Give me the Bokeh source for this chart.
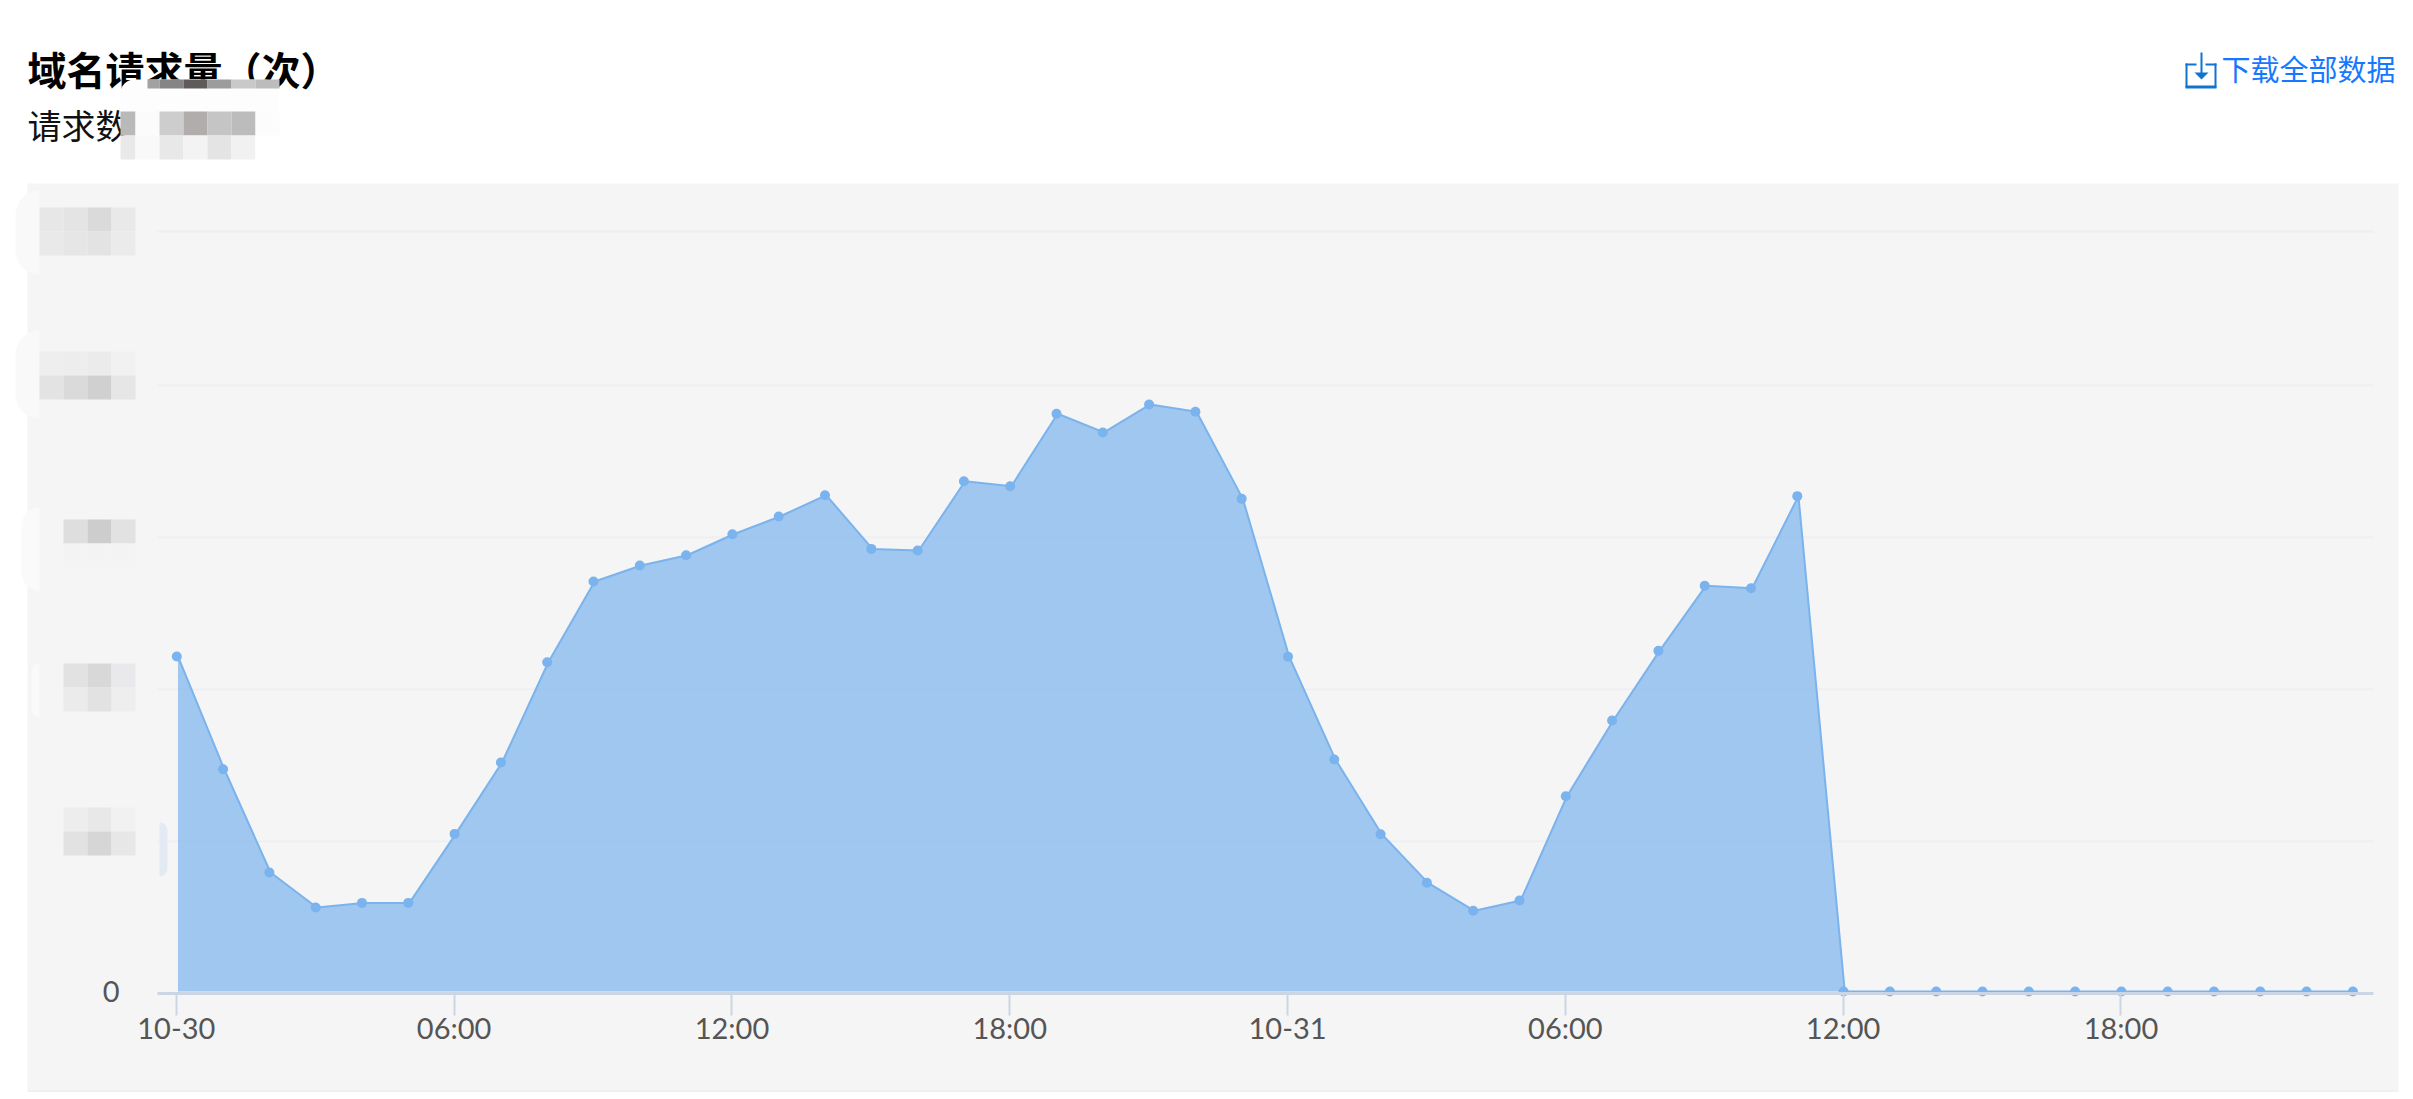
from bokeh.plotting import figure
from bokeh.embed import file_html
from bokeh.resources import INLINE
from bokeh.models import BoxAnnotation, PolyAnnotation, Label, FixedTicker, Range1d, ColumnDataSource

# ---- chart data -------------------------------------------------
hours = list(range(48))
requests = [2204, 1462, 783, 553, 583, 583, 1037, 1507, 2166, 2697, 2803, 2870,
            3008, 3125, 3265, 2912, 2901, 3357, 3324, 3801, 3678, 3862, 3814, 3241,
            2203, 1526, 1035, 715, 531, 599, 1285, 1783, 2241, 2669, 2653, 3259,
            0, 0, 0, 0, 0, 0, 0, 0, 0, 0, 0, 0]
x_tick_hours = [0, 6, 12, 18, 24, 30, 36, 42]
x_tick_labels = ["10-30", "06:00", "12:00", "18:00", "10-31", "06:00", "12:00", "18:00"]
grid_values = [989, 1989, 2989, 3988, 5000]
title_text = "域名请求量（次）"
subtitle_text = "请求数"
link_text = "下载全部数据"

# ---- colours ----------------------------------------------------
PANEL = "#f5f5f5"
LINE = "#7ab3ed"
GRID = "#eeeef4"
AXIS = "#cbd6e4"
FONT = "Lato"
CJK = "Noto Sans CJK SC"

W, H = 2405, 1092
PX0, PXH = 176.3, 46.3            # pixel of hour 0, pixels per hour
PY0, PYV = 991.0, 0.152           # pixel of value 0, pixels per unit
hx = lambda px: (px - PX0) / PXH
vy = lambda py: (PY0 - py) / PYV
X_L, X_R, Y_B = hx(157), hx(2373), vy(992.5)

p = figure(width=W, height=H, output_backend="svg", toolbar_location=None,
           x_range=Range1d(hx(0), hx(W)), y_range=Range1d(vy(H), vy(0)),
           min_border=0, min_border_left=0, min_border_right=0, min_border_top=0, min_border_bottom=0)
p.outline_line_color = None
p.background_fill_color = "white"
p.border_fill_color = "white"
p.xgrid.visible = False
p.ygrid.visible = False


def box(x0, y0, x1, y1, color, level="overlay", radius=0):
    p.add_layout(BoxAnnotation(left=x0, right=x1, top=y0, bottom=y1,
                               left_units="canvas", right_units="canvas",
                               top_units="canvas", bottom_units="canvas",
                               fill_color=color, fill_alpha=1, line_color=None,
                               level=level, border_radius=radius, editable=False))


# background panel and its bottom rule
box(27, 183, 2398, 1092, PANEL, level="image")
box(27, 1090, 2398, 1092, GRID, level="image")

# axes
tick_pos = [h - 0.01 for h in x_tick_hours]
ax = p.xaxis[0]
ax.fixed_location = Y_B
ax.bounds = (X_L, X_R)
ax.ticker = FixedTicker(ticks=tick_pos)
ax.major_label_overrides = {t: s for t, s in zip(tick_pos, x_tick_labels)}
ax.axis_line_color = AXIS
ax.axis_line_width = 3
ax.major_tick_line_color = AXIS
ax.major_tick_line_width = 2
ax.major_tick_in = 0
ax.major_tick_out = 22
ax.minor_tick_line_color = None
ax.major_label_text_font = FONT
ax.major_label_text_font_size = "29px"
ax.major_label_text_color = "#555555"
ax.major_label_standoff = -5

ay = p.yaxis[0]
ay.fixed_location = X_L
ay.ticker = FixedTicker(ticks=[0])
ay.axis_line_color = None
ay.major_tick_line_color = None
ay.minor_tick_line_color = None
ay.major_label_text_font = FONT
ay.major_label_text_font_size = "29px"
ay.major_label_text_color = "#555555"
ay.major_label_standoff = 32

# horizontal grid lines, stopping at the axis ends
p.segment(x0=[X_L] * len(grid_values), x1=[X_R] * len(grid_values), y0=grid_values, y1=grid_values,
          line_color=GRID, line_width=2, level="underlay")

# series
line_x = [h + 0.025 for h in hours]
src = ColumnDataSource(dict(x=hours, lx=line_x, y=requests))
p.varea(x="lx", y1=0, y2="y", source=src, fill_color=LINE, fill_alpha=0.7)
p.line(x="lx", y="y", source=src, line_color=LINE, line_width=2)
p.scatter(x="x", y="y", source=src, size=10, fill_color=LINE, line_color=LINE, line_width=0)


# texts
def label(x, y, text, size, color, weight="normal", align="left"):
    p.add_layout(Label(x=x, y=H - y, x_units="screen", y_units="screen", text=text,
                       text_font=CJK, text_font_size=size, text_color=color,
                       text_font_style=weight, text_align=align,
                       text_baseline="middle", level="annotation"))


label(27, 67, title_text, "39px", "#000000", weight="bold")
label(27, 124, subtitle_text, "34px", "#111111")
label(2221, 67, link_text, "29px", "#1677ff")

# download icon
ICON = "#0f74cf"
box(2185, 63, 2196, 65, ICON, "annotation")
box(2205, 63, 2216, 65, ICON, "annotation")
box(2185, 63, 2187, 87, ICON, "annotation")
box(2214, 63, 2216, 87, ICON, "annotation")
box(2185, 85, 2216, 88, ICON, "annotation")
box(2200, 52, 2202, 74, ICON, "annotation")
p.add_layout(PolyAnnotation(xs=[2194, 2208, 2201], ys=[72, 72, 79],
                            xs_units="canvas", ys_units="canvas", fill_color=ICON, fill_alpha=1,
                            line_color=None, level="annotation", editable=False))


# pixelated patches over the masked values
def tiles(xs, y0, rows, row_h=24, cell_w=24):
    for r, row in enumerate(rows):
        for c, col in enumerate(row):
            box(xs + c * cell_w, y0 + r * row_h, xs + (c + 1) * cell_w, y0 + (r + 1) * row_h, col)


# header patch
box(120, 79, 278, 135, "#fdfdfd", radius=14)
for i, col in enumerate(["#a2a2a2", "#858585", "#5e5b5a", "#9c9c9c", "#c9c9c9", "#bcbcbc"]):
    box(max(147, 135 + 24 * i), 79, 159 + 24 * i, 88, col)
box(120, 111, 135, 135, "#b9b9b9")
box(120, 135, 135, 159, "#e9e9e9")
tiles(135, 111, [["#fbfbfb", "#cdcdcd", "#b0adac", "#c4c5c4", "#bcbcbc", "#fbfcfb"],
                 ["#f9f9f9", "#e8e8e8", "#f3f3f3", "#e4e4e4", "#f0f1f0", "#ffffff"]])

# axis value patches
box(15, 190, 39, 274, "#f9f9f9", radius=(24, 0, 0, 24))
tiles(39, 207, [["#e7e7e7", "#e4e4e4", "#dadada", "#e9e9ea"], ["#e9e9e9", "#e6e6e6", "#e3e3e3", "#ebebeb"]])

box(15, 330, 39, 418, "#f9f9f9", radius=(24, 0, 0, 24))
tiles(39, 351, [["#eeeeee", "#ededed", "#ebebeb", "#f1f1f1"], ["#e3e3e3", "#dadada", "#d0d0d0", "#e6e6e6"]])

box(21, 507, 39, 590, "#fafafa", radius=(18, 0, 0, 18))
tiles(63, 519, [["#dedede", "#cdcdcd", "#e2e2e2"], ["#f3f3f3", "#f3f3f3", "#f3f3f3"]])

box(31, 663, 39, 717, "#fafafa", radius=(8, 0, 0, 8))
tiles(63, 663, [["#e2e2e2", "#d8d8d8", "#e9e9eb"], ["#ebebeb", "#e2e2e2", "#eeeeee"]])

box(159, 822, 167, 876, "#e3eaf3", radius=(0, 8, 8, 0))
tiles(63, 807, [["#ededed", "#e8e8e8", "#f1f1f1"], ["#e2e2e2", "#d6d6d6", "#e7e7e7"]])

open("out.html", "w").write(file_html(p, INLINE))
